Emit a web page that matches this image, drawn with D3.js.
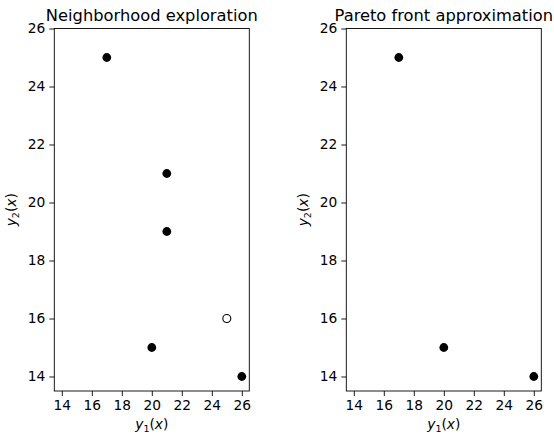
<!DOCTYPE html>
<html><head><meta charset="utf-8">
<script src="https://cdn.jsdelivr.net/npm/d3@7"></script>
<style>body{margin:0;background:#fff}text{font-family:"DejaVu Sans",sans-serif;fill:#000}</style>
</head><body>
<svg id="c" width="554" height="436"></svg>
<script>
const titles = ["Neighborhood exploration", "Pareto front approximation"];
const leftX = [17, 21, 21, 25, 20, 26];
const leftY = [25, 21, 19, 16, 15, 14];
const leftFilled = [true, true, true, false, true, true];
const rightX = [17, 20, 26];
const rightY = [25, 15, 14];
const rightFilled = [true, true, true];
const xTicks = [14, 16, 18, 20, 22, 24, 26];
const yTicks = [14, 16, 18, 20, 22, 24, 26];

(function () {
const svg = d3.select("#c");
const panels = [
  {x0: 54.3, title: titles[0], xs: leftX, ys: leftY, filled: leftFilled},
  {x0: 346.3, title: titles[1], xs: rightX, ys: rightY, filled: rightFilled}
];
const W = 195, plotTop = 28.5, plotBottom = 391;
const tickFont = "13.8px";
panels.forEach(p => {
  const x = d3.scaleLinear().domain([13.5, 26.5]).range([p.x0, p.x0 + W]);
  const y = d3.scaleLinear().domain([13.5, 26]).range([plotBottom, plotTop]);
  const g = svg.append("g");
  const xa = g.append("g").attr("transform", `translate(0,${plotBottom})`)
    .call(d3.axisBottom(x).tickValues(xTicks).tickSize(5).tickPadding(4).tickFormat(d3.format("d")));
  const ya = g.append("g").attr("transform", `translate(${p.x0},0)`)
    .call(d3.axisLeft(y).tickValues(yTicks).tickSize(5).tickPadding(4).tickFormat(d3.format("d")));
  [xa, ya].forEach(a => {
    a.select(".domain").remove();
    a.attr("font-family", "DejaVu Sans").attr("font-size", 13.8);
    a.selectAll("text").style("font-size", tickFont).style("font-family", "DejaVu Sans");
    a.selectAll("line").attr("stroke", "#000").attr("stroke-width", 0.9);
  });
  g.append("rect").attr("x", p.x0).attr("y", plotTop).attr("width", W).attr("height", plotBottom - plotTop)
    .attr("fill", "none").attr("stroke", "#000").attr("stroke-width", 0.9);
  p.xs.forEach((v, i) => {
    g.append("circle").attr("cx", x(v)).attr("cy", y(p.ys[i]))
      .attr("r", p.filled[i] ? 4.4 : 4)
      .attr("fill", p.filled[i] ? "#000" : "#fff")
      .attr("stroke", "#000").attr("stroke-width", p.filled[i] ? 0 : 1.1);
  });
  g.append("text").attr("x", p.x0 + W / 2).attr("y", 21).attr("text-anchor", "middle")
    .style("font-size", "16.3px").text(p.title);
  const xl = g.append("text").attr("x", p.x0 + W / 2).attr("y", 429).attr("text-anchor", "middle")
    .style("font-size", tickFont);
  xl.append("tspan").style("font-style", "italic").text("y");
  xl.append("tspan").attr("dy", 3).style("font-size", "9.5px").text("1");
  xl.append("tspan").attr("dy", -3).text("(");
  xl.append("tspan").style("font-style", "italic").text("x");
  xl.append("tspan").text(")");
  const yl = g.append("text").attr("transform", `translate(${p.x0 - 38},${(plotTop + plotBottom) / 2}) rotate(-90)`)
    .attr("text-anchor", "middle").style("font-size", tickFont);
  yl.append("tspan").style("font-style", "italic").text("y");
  yl.append("tspan").attr("dy", 3).style("font-size", "9.5px").text("2");
  yl.append("tspan").attr("dy", -3).text("(");
  yl.append("tspan").style("font-style", "italic").text("x");
  yl.append("tspan").text(")");
});
})();
</script>
</body></html>
